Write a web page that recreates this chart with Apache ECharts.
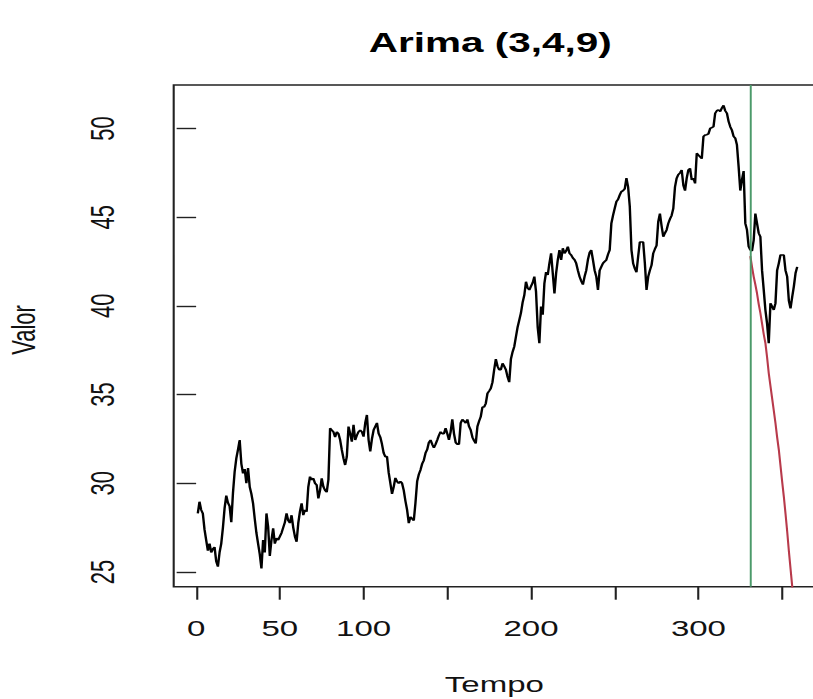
<!DOCTYPE html>
<html>
<head>
<meta charset="utf-8">
<script src="https://cdn.jsdelivr.net/npm/echarts@6/dist/echarts.min.js"></script>
<style>
  html, body { margin: 0; padding: 0; background: #fff; overflow: hidden; }
  #wrap { width: 813px; height: 699px; overflow: hidden; position: relative; }
  #chart { width: 560px; height: 699px; transform: scaleX(1.5); transform-origin: 0 0; }
</style>
</head>
<body>
<div id="wrap"><div id="chart"></div></div>
<script>
// ---- data ----
const chartTitle = 'Arima (3,4,9)';
const xName = 'Tempo';
const yName = 'Valor';
const seriesStart = 1;
const valor = [
  28.3, 28.96, 28.5, 28.3, 27.4, 26.8, 26.2, 26.6, 26.1, 26.3,
  26.4, 25.6, 25.3, 26.1, 26.6, 27.5, 28.6, 29.3, 28.9, 28.7,
  27.8, 29.45, 30.65, 31.4, 31.9, 32.44, 31.1, 30.56, 30.8, 30.0,
  30.86, 29.8, 29.4, 28.87, 28.0, 27.2, 26.6, 26.0, 25.2, 26.8,
  26.1, 28.3, 27.55, 25.9, 26.8, 27.46, 26.6, 26.9, 26.8, 27.0,
  27.2, 27.5, 27.8, 28.3, 27.9, 27.76, 28.2, 27.5, 27.0, 26.7,
  27.75, 28.4, 28.87, 28.2, 28.5, 28.4, 29.8, 30.37, 30.2, 30.28,
  30.0, 29.9, 29.15, 29.6, 30.28, 29.8, 29.6, 29.5, 30.2, 33.1,
  33.0, 32.9, 32.6, 32.9, 32.8, 32.44, 31.88, 31.4, 31.03, 31.5,
  33.2, 32.8, 32.35, 33.3, 32.44, 32.7, 32.9, 33.0, 32.9, 32.63,
  33.4, 33.85, 32.44, 31.8, 32.5, 33.0, 33.2, 33.4, 32.8, 32.6,
  32.2, 31.7, 31.5, 31.5, 30.6, 30.0, 29.4, 29.8, 30.3, 30.1,
  30.0, 30.1, 30.0, 29.6, 29.0, 28.5, 27.75, 28.1, 28.0, 27.9,
  28.9, 30.1, 30.5, 30.75, 31.1, 31.3, 31.7, 31.9, 32.3, 32.44,
  32.2, 32.0, 32.2, 32.44, 32.7, 32.9, 32.8, 32.8, 33.1, 32.8,
  32.44, 32.9, 33.6, 32.8, 32.3, 32.2, 32.2, 33.4, 33.6, 33.5,
  33.4, 33.6, 33.2, 33.0, 32.6, 32.4, 32.25, 33.2, 33.5, 33.76,
  34.3, 34.3, 34.5, 35.07, 35.2, 35.35, 35.7, 36.4, 37.0, 36.6,
  36.4, 36.4, 36.76, 36.6, 36.4, 36.0, 35.7, 37.0, 37.4, 37.7,
  38.26, 38.8, 39.2, 39.6, 40.2, 40.6, 41.36, 41.0, 40.9, 41.1,
  41.3, 41.65, 40.8, 38.8, 37.9, 39.96, 39.5, 41.27, 41.9, 41.74,
  42.4, 42.96, 41.84, 40.7, 41.84, 42.59, 43.15, 42.59, 43.25, 42.96,
  43.1, 43.34, 42.96, 42.87, 42.7, 42.6, 42.4, 42.0, 41.65, 41.4,
  41.2, 41.65, 42.0, 42.6, 43.0, 43.15, 42.59, 42.0, 41.65, 40.9,
  42.0, 42.2, 42.4, 42.5, 42.59, 42.9, 43.15, 44.65, 45.1, 45.5,
  45.88, 46.0, 46.25, 46.44, 46.5, 46.6, 47.2, 46.7, 45.6, 43.15,
  42.4, 42.1, 41.9, 42.78, 43.6, 43.6, 43.6, 42.4, 40.9, 41.65,
  42.0, 42.3, 42.96, 43.2, 43.4, 44.75, 45.2, 44.5, 43.9, 44.1,
  44.28, 44.65, 44.9, 45.1, 45.5, 46.7, 47.2, 47.4, 47.5, 47.66,
  46.8, 46.5, 47.2, 47.66, 47.75, 47.1, 47.2, 46.9, 48.6, 48.5,
  48.4, 48.3, 49.55, 49.63, 49.65, 49.7, 50.0, 50.05, 50.1, 50.86,
  51.0, 51.05, 50.96, 51.15, 51.3, 51.0, 50.86, 50.4, 50.1, 49.9,
  49.55, 49.45, 49.07, 47.85, 46.5, 47.1, 47.6, 44.65, 44.28, 43.34,
  43.15, 43.1, 43.7, 45.2, 44.65, 44.1, 43.9, 42.0, 40.9, 39.77,
  39.0, 37.9, 40.14, 39.96, 39.77, 40.14, 42.0, 42.4, 42.87, 42.87,
  42.87, 42.0, 41.65, 40.3, 39.86, 40.5, 41.1, 41.84, 42.2
];
const previsaoStart = 331;
const previsao = [
  42.8, 42.2, 41.65, 41.2, 40.7, 40.1, 39.6, 39.0, 38.4, 37.9,
  37.1, 36.2, 35.5, 34.8, 34.1, 33.4, 32.6, 31.9, 31.0, 30.1,
  29.25, 28.3, 27.3, 26.2, 25.2, 24.2, 23.1
];
const corte = 331;
const xTicks = [0, 50, 100, 150, 200, 250, 300, 350];
const xLabels = [0, 50, 100, 200, 300];
const yTicks = [25, 30, 35, 40, 45, 50];
const xRange = [-13.4, 374.4];
const yRange = [24.17, 52.45];

// ---- build ----
const K = 1.5;               // horizontal stretch of the reference picture
const sx = v => v / K;       // screen x -> chart x
const blackData = valor.map((v, i) => [seriesStart + i, v]);
const redData = previsao.map((v, i) => [previsaoStart + i, v]);

const chart = echarts.init(document.getElementById('chart'), null, { renderer: 'svg' });
const plotL = 173.7, plotR = 823, plotT = 85, plotB = 586.7;
const font = 'Liberation Sans, Arial, Helvetica, sans-serif';
const axisCol = '#222';

chart.setOption({
  animation: false,
  backgroundColor: '#fff',
  grid: {
    left: sx(plotL), top: plotT,
    width: sx(plotR - plotL), height: plotB - plotT,
    show: true, borderColor: axisCol, borderWidth: 1.4, backgroundColor: 'transparent'
  },
  xAxis: {
    type: 'value', min: xRange[0], max: xRange[1],
    splitLine: { show: false },
    axisLine: { show: false },
    axisTick: { show: true, customValues: xTicks, length: 13, lineStyle: { color: axisCol, width: 1.4 } },
    axisLabel: { show: true, customValues: xLabels, margin: 31, fontSize: 22, color: '#111', fontFamily: font }
  },
  yAxis: {
    type: 'value', min: yRange[0], max: yRange[1],
    splitLine: { show: false },
    axisLine: { show: false },
    axisTick: { show: true, customValues: yTicks, length: 13, lineStyle: { color: axisCol, width: 1.4 } },
    axisLabel: { show: true, customValues: yTicks, rotate: 90, margin: 36, fontSize: 22, color: '#111', fontFamily: font }
  },
  graphic: [
    { type: 'text', x: sx((plotL + plotR) / 2 - 8), y: 43,
      style: { text: chartTitle, font: 'bold 27px ' + font, fill: '#000', textAlign: 'center', textVerticalAlign: 'middle' } },
    { type: 'text', x: sx((plotL + plotR) / 2 - 4), y: 685,
      style: { text: xName, font: '22px ' + font, fill: '#111', textAlign: 'center', textVerticalAlign: 'middle' } },
    { type: 'text', x: sx(24), y: 330, rotation: Math.PI / 2,
      style: { text: yName, font: '22px ' + font, fill: '#111', textAlign: 'center', textVerticalAlign: 'middle' } }
  ],
  series: [
    {
      type: 'line', data: blackData, showSymbol: false, symbol: 'none',
      lineStyle: { color: '#000', width: 1.6 }, clip: true, z: 3,
      markLine: {
        silent: true, symbol: 'none', label: { show: false },
        lineStyle: { color: '#4c9a6a', width: 1.3, type: 'solid' },
        data: [{ xAxis: corte }]
      }
    },
    {
      type: 'line', data: redData, showSymbol: false, symbol: 'none',
      lineStyle: { color: '#b83a4b', width: 1.4 }, clip: true, z: 4
    }
  ]
});
</script>
</body>
</html>
